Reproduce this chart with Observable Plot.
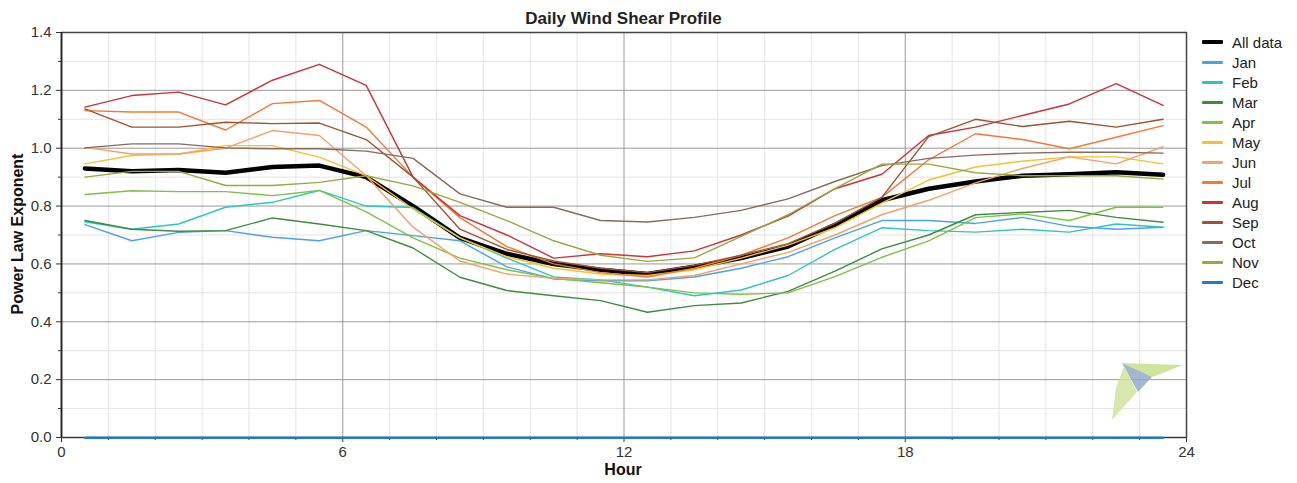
<!DOCTYPE html>
<html>
<head>
<meta charset="utf-8">
<script src="https://cdn.jsdelivr.net/npm/d3@7"></script>
<script src="https://cdn.jsdelivr.net/npm/@observablehq/plot@0.6"></script>
<style>
  body { margin: 0; background: #fff; font-family: "Liberation Sans", Arial, sans-serif; }
  #wrap { position: relative; width: 1297px; height: 483px; overflow: hidden; background: #fff; }
  #title { position: absolute; left: 61px; width: 1125px; top: 9px; text-align: center; font-weight: bold; font-size: 17px; color: #222; }
  #ylab { position: absolute; left: 18px; top: 234px; transform: translate(-50%, -50%) rotate(-90deg); white-space: nowrap; font-weight: bold; font-size: 16px; color: #111; }
  #xlab { position: absolute; left: 623px; top: 470px; transform: translate(-50%, -50%); font-weight: bold; font-size: 16px; color: #111; }
  #legend { position: absolute; left: 1202px; top: 32px; font-size: 15px; color: #222; }
  .row { height: 20px; display: flex; align-items: center; }
  .sw { width: 21px; height: 3px; margin-right: 9px; border-radius: 1px; }
  #logo { position: absolute; left: 1105px; top: 355px; opacity: 0.85; }
</style>
</head>
<body>
<div id="wrap">
  <div id="chart"></div>
  <div id="title">Daily Wind Shear Profile</div>
  <div id="ylab">Power Law Exponent</div>
  <div id="xlab">Hour</div>
  <div id="legend"></div>
  <svg id="logo" width="85" height="70" viewBox="1105 355 85 70">
    <polygon points="1122,363 1183,365 1150,378 1140,372" fill="#c9e08e"/>
    <polygon points="1122,363 1152,377 1138,392" fill="#93abc9"/>
    <polygon points="1124,366 1137,392 1112,420 1116,388" fill="#d2e59f"/>
  </svg>
</div>
<script>
const hours = [0.5,1.5,2.5,3.5,4.5,5.5,6.5,7.5,8.5,9.5,10.5,11.5,12.5,13.5,14.5,15.5,16.5,17.5,18.5,19.5,20.5,21.5,22.5,23.5];

const seriesNames = ["All data","Jan","Feb","Mar","Apr","May","Jun","Jul","Aug","Sep","Oct","Nov","Dec"];
const seriesColors = ["#000000","#4aa3e6","#2cc5c5","#3d8c40","#7dc242","#f5c22a","#f4a06a","#ef7a35","#c8343a","#a0522d","#8a6a5c","#9aa83c","#1f78d6"];

const allData = [0.93,0.92,0.925,0.915,0.935,0.94,0.90,0.80,0.69,0.635,0.60,0.58,0.565,0.59,0.62,0.66,0.735,0.82,0.86,0.885,0.905,0.91,0.917,0.908];
const jan = [0.736,0.68,0.709,0.715,0.692,0.68,0.715,0.698,0.68,0.59,0.548,0.542,0.542,0.555,0.585,0.625,0.69,0.75,0.75,0.74,0.761,0.73,0.72,0.727];
const feb = [0.746,0.72,0.738,0.796,0.813,0.854,0.80,0.795,0.69,0.62,0.555,0.545,0.52,0.49,0.51,0.56,0.65,0.725,0.715,0.71,0.72,0.71,0.738,0.727];
const mar = [0.75,0.72,0.713,0.715,0.759,0.738,0.715,0.655,0.554,0.508,0.49,0.473,0.433,0.456,0.465,0.505,0.575,0.652,0.70,0.77,0.778,0.785,0.761,0.744];
const apr = [0.84,0.853,0.85,0.85,0.836,0.854,0.78,0.69,0.62,0.58,0.55,0.535,0.52,0.50,0.495,0.50,0.556,0.623,0.68,0.76,0.773,0.75,0.796,0.796];
const may = [0.946,0.975,0.98,1.009,1.009,0.969,0.905,0.79,0.69,0.625,0.585,0.565,0.56,0.58,0.62,0.665,0.725,0.81,0.89,0.935,0.955,0.97,0.97,0.946];
const jun = [1.003,0.98,0.98,1.0,1.061,1.044,0.905,0.727,0.61,0.565,0.55,0.545,0.545,0.56,0.60,0.64,0.70,0.77,0.82,0.88,0.93,0.97,0.946,1.005];
const jul = [1.13,1.125,1.125,1.063,1.154,1.165,1.073,0.90,0.76,0.66,0.60,0.57,0.555,0.585,0.63,0.69,0.767,0.83,0.96,1.05,1.03,0.998,1.038,1.078];
const aug = [1.142,1.182,1.194,1.15,1.235,1.29,1.217,0.90,0.767,0.70,0.62,0.635,0.625,0.645,0.70,0.765,0.86,0.91,1.044,1.073,1.113,1.153,1.223,1.148];
const sep = [1.136,1.073,1.073,1.09,1.085,1.087,1.03,0.90,0.72,0.65,0.61,0.585,0.57,0.595,0.63,0.67,0.74,0.83,1.04,1.10,1.075,1.093,1.073,1.10];
const oct = [1.001,1.015,1.015,1.001,0.998,0.998,0.99,0.965,0.842,0.796,0.796,0.75,0.745,0.761,0.785,0.825,0.885,0.94,0.965,0.976,0.983,0.986,0.986,0.983];
const nov = [0.90,0.92,0.92,0.871,0.871,0.882,0.905,0.87,0.813,0.75,0.68,0.63,0.609,0.621,0.695,0.77,0.86,0.945,0.945,0.915,0.905,0.905,0.905,0.893];
const dec = [0,0,0,0,0,0,0,0,0,0,0,0,0,0,0,0,0,0,0,0,0,0,0,0];

const xTicks = [0,6,12,18,24];
const xMinor = [1,2,3,4,5,7,8,9,10,11,13,14,15,16,17,19,20,21,22,23];
const yTicks = [0,0.2,0.4,0.6,0.8,1.0,1.2,1.4];
const yMinor = [0.1,0.3,0.5,0.7,0.9,1.1,1.3];

const seriesValues = [allData,jan,feb,mar,apr,may,jun,jul,aug,sep,oct,nov,dec];
const rows = [];
seriesNames.forEach((name, i) => {
  hours.forEach((h, j) => rows.push({series: name, hour: h, value: seriesValues[i][j]}));
});
const allRows = rows.filter(r => r.series === "All data");
const monthRows = rows.filter(r => r.series !== "All data");

const chart = Plot.plot({
  width: 1297,
  height: 483,
  marginLeft: 61,
  marginRight: 111,
  marginTop: 32,
  marginBottom: 46,
  style: {fontFamily: "Liberation Sans, Arial, sans-serif", fontSize: "15px", color: "#333", background: "transparent"},
  x: {domain: [0, 24], label: null},
  y: {domain: [0, 1.4], label: null},
  color: {domain: seriesNames, range: seriesColors},
  marks: [
    Plot.gridX(xMinor, {stroke: "#e3e3e3", strokeOpacity: 1}),
    Plot.gridY(yMinor, {stroke: "#e3e3e3", strokeOpacity: 1}),
    Plot.gridX(xTicks, {stroke: "#9a9a9a", strokeOpacity: 1}),
    Plot.gridY(yTicks, {stroke: "#9a9a9a", strokeOpacity: 1}),
    Plot.axisX(xMinor, {tickSize: 3, tickFormat: () => "", label: null}),
    Plot.axisY(yMinor, {tickSize: 3, tickFormat: () => "", label: null}),
    Plot.axisX(xTicks, {tickSize: 5, tickPadding: 4, tickFormat: d => String(d), label: null}),
    Plot.axisY(yTicks, {tickSize: 5, tickPadding: 5, tickFormat: d => d.toFixed(1), label: null}),
    Plot.frame({stroke: "#444", strokeWidth: 1.5}),
    Plot.ruleX([0], {stroke: "#222", strokeWidth: 1.6}),
    Plot.ruleY([0], {stroke: "#333", strokeWidth: 1.2}),
    Plot.line(allRows, {x: "hour", y: "value", stroke: "#000", strokeWidth: 4.5}),
    Plot.line(monthRows, {x: "hour", y: "value", z: "series", stroke: "series", strokeWidth: 1.4}),
    Plot.line(rows.filter(r => r.series === "Dec"), {x: "hour", y: "value", stroke: "series", strokeWidth: 2.2, dy: 0.3})
  ]
});
document.getElementById("chart").appendChild(chart);

const legend = document.getElementById("legend");
seriesNames.forEach((name, i) => {
  const row = document.createElement("div");
  row.className = "row";
  const sw = document.createElement("span");
  sw.className = "sw";
  sw.style.background = seriesColors[i];
  if (i === 0) sw.style.height = "4px";
  const tx = document.createElement("span");
  tx.textContent = name;
  row.appendChild(sw);
  row.appendChild(tx);
  legend.appendChild(row);
});
</script>
</body>
</html>
